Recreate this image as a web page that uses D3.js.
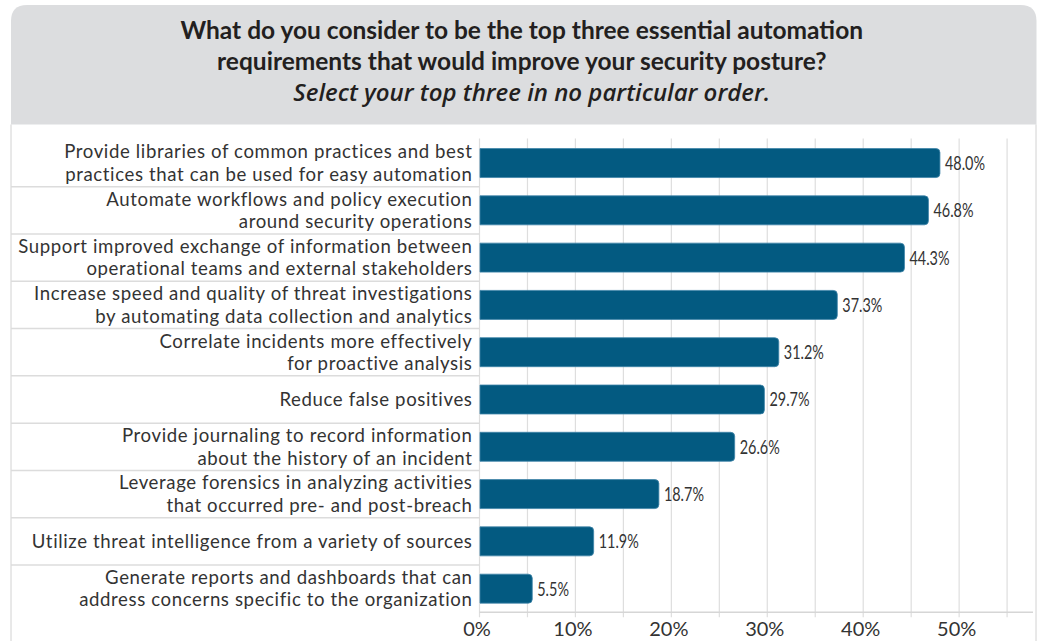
<!DOCTYPE html>
<html>
<head>
<meta charset="utf-8">
<script src="https://cdn.jsdelivr.net/npm/d3@7"></script>
<style>
  html, body { margin: 0; padding: 0; background: #ffffff; }
  svg { display: block; }
</style>
</head>
<body>
<svg id="chart" width="1042" height="641"></svg>
<script>
// ---- data ----
const titleLines = [
  "What do you consider to be the top three essential automation",
  "requirements that would improve your security posture?"
];
const subtitle = "Select your top three in no particular order.";

const categories = [
  "Provide libraries of common practices and best\npractices that can be used for easy automation",
  "Automate workflows and policy execution\naround security operations",
  "Support improved exchange of information between\noperational teams and external stakeholders",
  "Increase speed and quality of threat investigations\nby automating data collection and analytics",
  "Correlate incidents more effectively\nfor proactive analysis",
  "Reduce false positives",
  "Provide journaling to record information\nabout the history of an incident",
  "Leverage forensics in analyzing activities\nthat occurred pre- and post-breach",
  "Utilize threat intelligence from a variety of sources",
  "Generate reports and dashboards that can\naddress concerns specific to the organization"
];
const values = [48.0, 46.8, 44.3, 37.3, 31.2, 29.7, 26.6, 18.7, 11.9, 5.5];
const tickValues = [0, 10, 20, 30, 40, 50];
const gridValues = [0, 5, 10, 15, 20, 25, 30, 35, 40, 45, 50, 55];

// ---- layout ----
const W = 1042, H = 641;
const cardL = 11, cardR = 1036.5, cardT = 5, headerB = 124.5;
const plotL = 479.5, plotR = 1033, plotT = 139.4, plotB = 612.3;
const FONT = "Lato, 'Open Sans', 'Noto Sans', sans-serif";

const svg = d3.select("#chart");

// header with rounded top corners
const r = 16;
svg.append("path")
  .attr("d", `M${cardL},${headerB} L${cardL},${cardT + r} Q${cardL},${cardT} ${cardL + r},${cardT}
              L${cardR - r},${cardT} Q${cardR},${cardT} ${cardR},${cardT + r} L${cardR},${headerB} Z`)
  .attr("fill", "#dcdddf");

// panel side borders
svg.append("line").attr("x1", cardL).attr("x2", cardL).attr("y1", headerB).attr("y2", H)
  .attr("stroke", "#d2d2d2").attr("stroke-width", 1);
svg.append("line").attr("x1", cardR - 0.5).attr("x2", cardR - 0.5).attr("y1", headerB).attr("y2", H)
  .attr("stroke", "#d2d2d2").attr("stroke-width", 1);

// title
const cx = (cardL + cardR) / 2;
const titleG = svg.append("g").attr("font-family", FONT).attr("fill", "#231f20").attr("text-anchor", "middle");
titleLines.forEach((t, i) => {
  titleG.append("text").attr("x", cx - 2).attr("y", 38.5 + i * 31)
    .attr("font-size", 24.5).attr("font-weight", 700).text(t);
});
titleG.append("text").attr("x", cx + 8).attr("y", 100.5)
  .attr("font-family", "'Open Sans', Lato, sans-serif")
  .attr("font-size", 24).attr("font-weight", 600).attr("font-style", "italic").text(subtitle);

// scales
const x = d3.scaleLinear().domain([0, 57.7]).range([plotL, plotR]);
const y = d3.scaleBand().domain(categories).range([plotT, plotB]).paddingInner(0.387).paddingOuter(0.387 / 2);
const step = y.step();

// gridlines
svg.append("g").selectAll("line").data(gridValues).join("line")
  .attr("x1", d => x(d)).attr("x2", d => x(d))
  .attr("y1", plotT - 1).attr("y2", plotB + 5)
  .attr("stroke", "#dedede").attr("stroke-width", 1.2);

// bottom axis line
svg.append("line").attr("x1", plotL).attr("x2", plotR).attr("y1", plotB).attr("y2", plotB)
  .attr("stroke", "#d6d6d6").attr("stroke-width", 1.5);

// row separators in label column
svg.append("g").selectAll("line").data(categories.slice(1)).join("line")
  .attr("x1", cardL).attr("x2", plotL)
  .attr("y1", d => y(d) - step * y.paddingInner() / 2)
  .attr("y2", d => y(d) - step * y.paddingInner() / 2)
  .attr("stroke", "#dcdcdc").attr("stroke-width", 1.5);

// axis tick labels
const axis = d3.axisBottom(x).tickValues(tickValues).tickFormat(d => d + "%").tickSize(0).tickPadding(0);
const axG = svg.append("g").attr("transform", `translate(-3,${plotB})`).call(axis);
axG.select(".domain").remove();
axG.selectAll("text").attr("font-family", FONT).attr("font-size", 20).attr("fill", "#333")
  .attr("dy", null).attr("y", 24);

// bars
const rad = 4;
const rows = categories.map((c, i) => ({ c, v: values[i] }));
svg.append("g").selectAll("path").data(rows).join("path")
  .attr("d", d => {
    const x0 = x(0) + 0.5, x1 = x(d.v), y0 = y(d.c), h = y.bandwidth();
    return `M${x0},${y0} L${x1 - rad},${y0} Q${x1},${y0} ${x1},${y0 + rad} L${x1},${y0 + h - rad}
            Q${x1},${y0 + h} ${x1 - rad},${y0 + h} L${x0},${y0 + h} Z`;
  })
  .attr("fill", "#035a81").attr("stroke", "#3f84a8").attr("stroke-width", 0.8);

// value labels (condensed look)
svg.append("g").selectAll("text").data(rows).join("text")
  .attr("transform", d => `translate(${x(d.v) + 5},${y(d.c) + y.bandwidth() / 2 + 7}) scale(0.74,1)`)
  .attr("font-family", FONT).attr("font-size", 19.5).attr("fill", "#333")
  .text(d => d.v.toFixed(1) + "%");

// category labels
const lineH = 22.4, fs = 18.6;
const lab = svg.append("g").attr("font-family", FONT).attr("font-size", fs).attr("fill", "#333")
  .attr("letter-spacing", 0.62).attr("text-anchor", "end");
categories.forEach(c => {
  const lines = c.split("\n");
  const center = y(c) + y.bandwidth() / 2;
  const first = center - (lines.length - 1) * lineH / 2 + 6.6;
  lines.forEach((ln, j) => {
    lab.append("text").attr("x", plotL - 7).attr("y", first + j * lineH).text(ln);
  });
});
</script>
</body>
</html>
